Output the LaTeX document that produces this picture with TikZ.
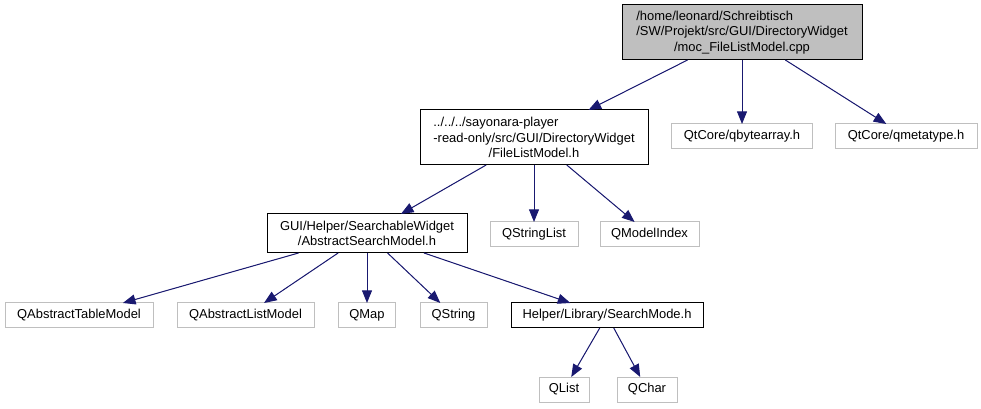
\documentclass[tikz,border=0pt]{standalone}
\usepackage{fontspec}
\usepackage{calc}
\setmainfont{Liberation Sans}
\usetikzlibrary{arrows.meta}

\definecolor{edgeblue}{HTML}{191970}
\definecolor{extgray}{HTML}{BFBFBF}
\definecolor{rootfill}{HTML}{BFBFBF}

\tikzset{
  box/.style={draw, line width=0.75pt, inner sep=0pt, outer sep=0pt,
    align=center, font=\fontsize{9.7pt}{11.6pt}\selectfont},
  doc/.style={box, draw=black},
  ext/.style={box, draw=extgray},
  dep/.style={-{Triangle[length=9.5pt,width=7.5pt]}, draw=edgeblue, fill=edgeblue, line width=0.75pt},
}

\begin{document}
\begin{tikzpicture}[x=0.75pt, y=-0.75pt]
  \useasboundingbox (0,0) rectangle (981,409);

  % top level
  \node[doc, fill=rootfill, minimum width=180pt, minimum height=41.25pt] (root) at (742,32.5)
    {\makebox[\widthof{/SW/Projekt/src/GUI/DirectoryWidget}][l]{/home/leonard/Schreibtisch}\\/SW/Projekt/src/GUI/DirectoryWidget\\/moc\_FileListModel.cpp};

  % second level
  \node[doc, minimum width=171pt, minimum height=41.25pt] (flm) at (534,137.5)
    {\makebox[\widthof{-read-only/src/GUI/DirectoryWidget}][l]{../../../sayonara-player}\\-read-only/src/GUI/DirectoryWidget\\/FileListModel.h};
  \node[ext, minimum width=105.75pt, minimum height=18.75pt] (qba) at (742,136.5) {QtCore/qbytearray.h};
  \node[ext, minimum width=106.5pt, minimum height=18.75pt] (qmt) at (906,136.5) {QtCore/qmetatype.h};

  % third level
  \node[doc, minimum width=150pt, minimum height=29.25pt] (asm) at (367,233.5)
    {GUI/Helper/SearchableWidget\\/AbstractSearchModel.h};
  \node[ext, minimum width=66pt, minimum height=18.75pt] (qsl) at (534,234.5) {QStringList};
  \node[ext, minimum width=74.25pt, minimum height=18.75pt] (qmi) at (649.5,234.5) {QModelIndex};

  % fourth level
  \node[ext, minimum width=111pt, minimum height=18.75pt] (qatm) at (79,315.5) {QAbstractTableModel};
  \node[ext, minimum width=102.75pt, minimum height=18.75pt] (qalm) at (245.5,315.5) {QAbstractListModel};
  \node[ext, minimum width=42.75pt, minimum height=18.75pt] (qmap) at (367,315.5) {QMap};
  \node[ext, minimum width=50.25pt, minimum height=18.75pt] (qstr) at (453.5,315.5) {QString};
  \node[doc, minimum width=144pt, minimum height=18.75pt] (smode) at (607,315.5) {Helper/Library/SearchMode.h};

  % fifth level
  \node[ext, minimum width=37.5pt, minimum height=18.75pt] (qlist) at (564,389.5) {QList};
  \node[ext, minimum width=45pt, minimum height=18.75pt] (qchar) at (647,389.5) {QChar};

  % includes
  \draw[dep] (root) -- (flm);
  \draw[dep] (root) -- (qba);
  \draw[dep] (root) -- (qmt);
  \draw[dep] (flm) -- (asm);
  \draw[dep] (flm) -- (qsl);
  \draw[dep] (flm) -- (qmi);
  \foreach \t in {qatm,qalm,qmap,qstr,smode}
    \draw[dep] (asm) -- (\t);
  \draw[dep] (smode) -- (qlist);
  \draw[dep] (smode) -- (qchar);
\end{tikzpicture}
\end{document}
